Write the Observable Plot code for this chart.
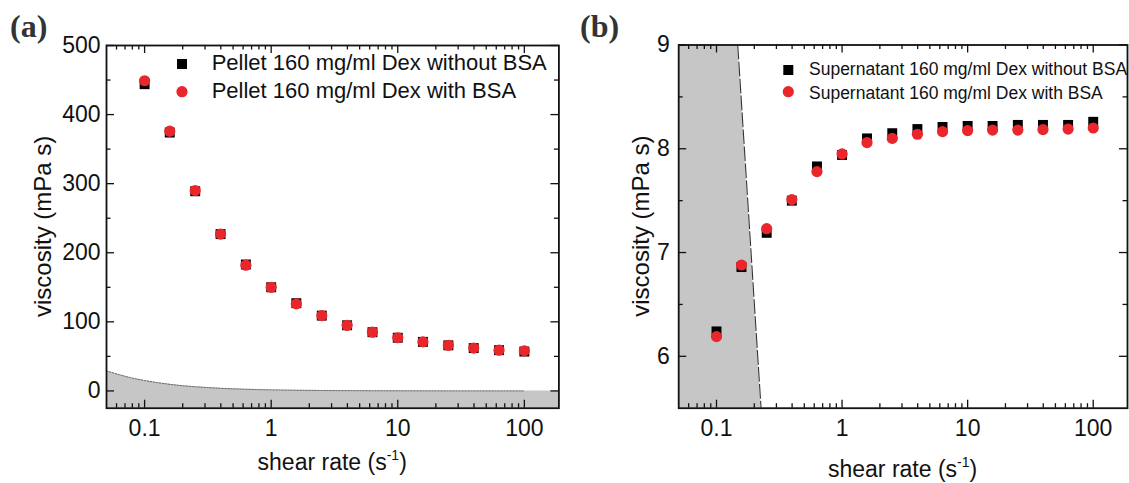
<!DOCTYPE html>
<html><head><meta charset="utf-8">
<script src="https://cdn.jsdelivr.net/npm/d3@7"></script>
<script src="https://cdn.jsdelivr.net/npm/@observablehq/plot@0.6"></script>
<style>
body{margin:0;background:#fff;}
#wrap{position:relative;width:1129px;height:483px;overflow:hidden;background:#fff;}
#wrap svg{position:absolute;top:0;}
</style></head><body><div id="wrap"></div>
<script>
// ---------- data ----------
const shearRate   = [0.1,0.158,0.251,0.398,0.631,1,1.58,2.51,3.98,6.31,10,15.8,25.1,39.8,63.1,100];
const pelletNoBSA = [444,374,289,227,183,150,127,109,95,85,77,71,66,62,59,57];
const pelletBSA   = [449,376,290,227,182,150,126,109,95,85,77,71,66,62,59,58];
const superNoBSA  = [6.24,6.86,7.19,7.50,7.83,7.94,8.10,8.15,8.19,8.21,8.22,8.22,8.23,8.23,8.23,8.26];
const superBSA    = [6.19,6.88,7.23,7.51,7.78,7.95,8.06,8.10,8.14,8.165,8.175,8.18,8.18,8.185,8.19,8.20];
// low-torque limit regions (grey)
const limitA_x = [0.05,0.063,0.08,0.1,0.126,0.158,0.2,0.251,0.316,0.398,0.5,0.631,0.794,1,1.58,2.51,3.98,6.31,10,25.1,63.1,100,187.5];
const limitA_y = [29,23.5,18.5,15,12,9.5,7.5,6,4.8,3.8,3,2.4,1.9,1.5,0.95,0.6,0.38,0.24,0.15,0.06,0.02,0,0];
const limitB_y = [9,5.5];
const limitB_x = [0.1476,0.2264];
// axes
const xDomain = [0.05,187.5];
const xTicks = [0.1,1,10,100];
const xTickLabels = ["0.1","1","10","100"];
const xMinor = [0.06,0.07,0.08,0.09,0.2,0.3,0.4,0.5,0.6,0.7,0.8,0.9,2,3,4,5,6,7,8,9,20,30,40,50,60,70,80,90];
const yDomainA = [-25,500], yTicksA = [0,100,200,300,400,500], yMinorA = [50,150,250,350,450];
const yDomainB = [5.5,9],   yTicksB = [6,7,8,9],               yMinorB = [6.5,7.5,8.5];
const legendA = ["Pellet 160 mg/ml Dex without BSA","Pellet 160 mg/ml Dex with BSA"];
const legendB = ["Supernatant 160 mg/ml Dex without BSA","Supernatant 160 mg/ml Dex with BSA"];
const RED = "#e8262b", BLACK = "#000", GREY = "#c6c6c6";
const FONT = "'Liberation Sans', Arial, Helvetica, sans-serif";

function makePanel(o) {
  const innerW = o.width - o.ml - o.mr, innerH = o.height - o.mt - o.mb;
  const tickCol = "#111", tw = 1.3;
  const xt = (vals, len) => [
    Plot.tickX(vals, {x: d => d, insetTop: innerH - len, stroke: tickCol, strokeWidth: tw}),
    Plot.tickX(vals, {x: d => d, insetBottom: innerH - len, stroke: tickCol, strokeWidth: tw})
  ];
  const yt = (vals, len) => [
    Plot.tickY(vals, {y: d => d, insetRight: innerW - len, stroke: tickCol, strokeWidth: tw}),
    Plot.tickY(vals, {y: d => d, insetLeft: innerW - len, stroke: tickCol, strokeWidth: tw})
  ];
  const rows1 = shearRate.map((x, i) => ({x, y: o.s1[i]}));
  const rows2 = shearRate.map((x, i) => ({x, y: o.s2[i]}));
  const svg = Plot.plot({
    width: o.width, height: o.height,
    marginLeft: o.ml, marginRight: o.mr, marginTop: o.mt, marginBottom: o.mb,
    style: {fontFamily: FONT, fontSize: "23px", color: "#111", background: "transparent", overflow: "visible"},
    x: {type: "log", domain: xDomain},
    y: {domain: o.yDomain},
    marks: [
      ...o.limitMarks,
      ...xt(xTicks, 8), ...xt(xMinor, 4.5),
      ...yt(o.yTicks, 8), ...yt(o.yMinor, 4.5),
      Plot.axisX(xTicks, {tickSize: 0, tickPadding: 11, label: null, fontSize: 23,
        tickFormat: d => xTickLabels[xTicks.indexOf(d)]}),
      Plot.axisY(o.yTicks, {tickSize: 0, tickPadding: o.yPad, label: null, fontSize: 23, tickFormat: d => String(d)}),
      Plot.dot(rows1, {x: "x", y: "y", symbol: "square", r: 5.6, fill: BLACK, stroke: "none"}),
      Plot.dot(rows2, {x: "x", y: "y", symbol: "circle", r: 5.6, fill: RED, stroke: "none"}),
      Plot.frame({stroke: "#111", strokeWidth: 1.8})
    ]
  });
  svg.style.left = o.left + "px";
  const s = d3.select(svg);
  // panel letter
  s.append("text").attr("x", o.letterX).attr("y", 37).attr("text-anchor", "start")
    .attr("font-family", "'Liberation Serif', 'Times New Roman', serif").attr("font-weight", "bold")
    .attr("font-size", 32).attr("fill", "#333").text(o.letter);
  // y title
  s.append("text").attr("transform", `translate(${o.yTitleX},${(o.mt + o.height - o.mb) / 2}) rotate(-90)`)
    .attr("text-anchor", "middle").attr("font-size", 24).attr("fill", "#111").text("viscosity (mPa s)");
  // x title with superscript
  const xt2 = s.append("text").attr("x", o.ml + innerW / 2).attr("y", o.xTitleY)
    .attr("text-anchor", "middle").attr("font-size", 23).attr("fill", "#111");
  xt2.append("tspan").text("shear rate (s");
  xt2.append("tspan").attr("font-size", 14).attr("dy", -10).text("-1");
  xt2.append("tspan").attr("dy", 10).text(")");
  // legend
  const L = o.legend;
  s.append("rect").attr("x", L.mx - 5).attr("y", L.y1 - 5).attr("width", 10).attr("height", 10).attr("fill", BLACK);
  s.append("circle").attr("cx", L.mx).attr("cy", L.y2).attr("r", 5.6).attr("fill", RED);
  s.append("text").attr("x", L.tx).attr("y", L.b1).attr("text-anchor", "start").attr("font-size", L.fs).attr("fill", "#111").text(o.labels[0]);
  s.append("text").attr("x", L.tx).attr("y", L.b2).attr("text-anchor", "start").attr("font-size", L.fs).attr("fill", "#111").text(o.labels[1]);
  return svg;
}

const rowsLimA = limitA_x.map((x, i) => ({x, y: limitA_y[i]}));
const rowsLimB = limitB_x.map((x, i) => ({x, y: limitB_y[i]}));

const wrap = document.getElementById("wrap");
wrap.appendChild(makePanel({
  left: 0, width: 565, height: 483, ml: 106, mr: 6.6, mt: 45, mb: 75.3,
  yDomain: yDomainA, yTicks: yTicksA, yMinor: yMinorA, yPad: 6,
  s1: pelletNoBSA, s2: pelletBSA, labels: legendA,
  limitMarks: [
    Plot.areaY(rowsLimA, {x: "x", y1: yDomainA[0], y2: "y", fill: GREY, clip: true}),
    Plot.line(rowsLimA.filter(d => d.x <= 100), {x: "x", y: "y", stroke: "#666", strokeWidth: 1, strokeDasharray: "1.5,1.5", clip: true})
  ],
  letter: "(a)", letterX: 10, yTitleX: 51, xTitleY: 469.5,
  legend: {mx: 182, y1: 64, y2: 91.7, tx: 211.7, b1: 70, b2: 97.7, fs: 22}
}));
wrap.appendChild(makePanel({
  left: 565, width: 564, height: 483, ml: 113.2, mr: 2, mt: 44.5, mb: 75.3,
  yDomain: yDomainB, yTicks: yTicksB, yMinor: yMinorB, yPad: 9,
  s1: superNoBSA, s2: superBSA, labels: legendB,
  limitMarks: [
    Plot.areaX(rowsLimB, {y: "y", x1: xDomain[0], x2: "x", fill: GREY, clip: true}),
    Plot.line(rowsLimB, {x: "x", y: "y", stroke: "#333", strokeWidth: 1.1, strokeDasharray: "14,3", clip: true})
  ],
  letter: "(b)", letterX: 15, yTitleX: 84, xTitleY: 476.5,
  legend: {mx: 223.3, y1: 70, y2: 91.7, tx: 244, b1: 75, b2: 99.3, fs: 17.5}
}));
</script></body></html>
